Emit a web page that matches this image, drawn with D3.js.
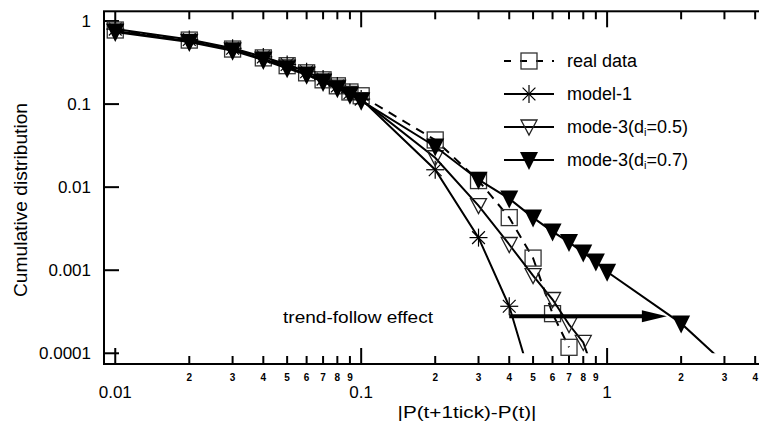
<!DOCTYPE html>
<html>
<head>
<meta charset="utf-8">
<script src="https://cdn.jsdelivr.net/npm/d3@7"></script>
<style>
  body { margin: 0; background: #fff; }
  svg { display: block; font-family: "Liberation Sans", Arial, sans-serif; }
</style>
</head>
<body>
<svg id="chart" width="759" height="430"></svg>
<script>
// values
const realX = [0.01, 0.02, 0.03, 0.04, 0.05, 0.06, 0.07, 0.08, 0.09, 0.1, 0.2, 0.3, 0.4, 0.5, 0.6, 0.7];
const realY = [0.78, 0.59, 0.46, 0.36, 0.29, 0.238, 0.196, 0.166, 0.14, 0.126, 0.037, 0.012, 0.0043, 0.0014, 0.0003, 0.000118];

const model1X = [0.01, 0.02, 0.03, 0.04, 0.05, 0.06, 0.07, 0.08, 0.09, 0.1, 0.2, 0.3, 0.4, 0.5];
const model1Y = [0.8, 0.6, 0.47, 0.37, 0.3, 0.245, 0.2, 0.165, 0.137, 0.115, 0.0162, 0.00247, 0.000368, 0.00004];

const mode05X = [0.01, 0.02, 0.03, 0.04, 0.05, 0.06, 0.07, 0.08, 0.09, 0.1, 0.2, 0.3, 0.4, 0.5, 0.6, 0.7, 0.8, 0.9];
const mode05Y = [0.76, 0.57, 0.45, 0.35, 0.28, 0.23, 0.19, 0.16, 0.135, 0.113, 0.0226, 0.006, 0.00204, 0.00086, 0.000444, 0.000222, 0.000135, 0.00005];

const mode07X = [0.01, 0.02, 0.03, 0.04, 0.05, 0.06, 0.07, 0.08, 0.09, 0.1, 0.2, 0.3, 0.4, 0.5, 0.6, 0.7, 0.8, 0.9, 1, 2, 3];
const mode07Y = [0.74, 0.56, 0.44, 0.34, 0.27, 0.225, 0.185, 0.155, 0.13, 0.11, 0.0309, 0.0123, 0.00728, 0.0043, 0.00292, 0.00218, 0.00163, 0.00127, 0.00096, 0.000229, 0.000076];

const seriesNames = ["real data", "model-1", "mode-3(d=0.5)", "mode-3(d=0.7)"];

const yTicks = [1, 0.1, 0.01, 0.001, 0.0001];
const yTickLabels = ["1", "0.1", "0.01", "0.001", "0.0001"];
const xMajorTicks = [0.01, 0.1, 1];
const xMajorLabels = ["0.01", "0.1", "1"];
const xMinorTicks = [0.02, 0.03, 0.04, 0.05, 0.06, 0.07, 0.08, 0.09, 0.2, 0.3, 0.4, 0.5, 0.6, 0.7, 0.8, 0.9, 2, 3, 4];
const xMinorLabels = ["2", "3", "4", "5", "6", "7", "8", "9", "2", "3", "4", "5", "6", "7", "8", "9", "2", "3", "4"];

const arrowFrom = [0.4, 0.00028];
const arrowTo = [1.75, 0.00028];
const yFloor = 0.0001;

const svg = d3.select("#chart");
const plot = { left: 104, right: 779, top: 11.3, bottom: 364 };

const x = d3.scaleLog().domain([0.009, 5]).range([plot.left, plot.right]);
const y = d3.scaleLog().domain([7.43e-5, 1.31]).range([plot.bottom, plot.top]);

// clip lines at the 1e-4 level like the original
svg.append("defs").append("clipPath").attr("id", "clip")
  .append("rect")
  .attr("x", plot.left).attr("y", plot.top)
  .attr("width", plot.right - plot.left).attr("height", y(yFloor) - plot.top);

// frame
svg.append("rect")
  .attr("x", plot.left).attr("y", plot.top)
  .attr("width", plot.right - plot.left).attr("height", plot.bottom - plot.top)
  .attr("fill", "none").attr("stroke", "#000").attr("stroke-width", 2);

const ticks = svg.append("g").attr("stroke", "#000").attr("stroke-width", 2);

// y ticks both sides
yTicks.forEach(v => {
  ticks.append("line").attr("x1", plot.left).attr("x2", plot.left + 15).attr("y1", y(v)).attr("y2", y(v));
  ticks.append("line").attr("x1", plot.right).attr("x2", plot.right - 15).attr("y1", y(v)).attr("y2", y(v));
});
// x ticks top and bottom
xMajorTicks.forEach(v => {
  ticks.append("line").attr("x1", x(v)).attr("x2", x(v)).attr("y1", plot.bottom).attr("y2", plot.bottom - 16);
  ticks.append("line").attr("x1", x(v)).attr("x2", x(v)).attr("y1", plot.top).attr("y2", plot.top + 16);
});
xMinorTicks.forEach(v => {
  ticks.append("line").attr("x1", x(v)).attr("x2", x(v)).attr("y1", plot.bottom).attr("y2", plot.bottom - 8);
  ticks.append("line").attr("x1", x(v)).attr("x2", x(v)).attr("y1", plot.top).attr("y2", plot.top + 8);
});

// tick labels
svg.append("g").selectAll("text").data(yTicks).join("text")
  .attr("x", 91).attr("y", d => y(d))
  .attr("text-anchor", "end").attr("dominant-baseline", "central")
  .attr("font-size", 17)
  .text((d, i) => yTickLabels[i]);

svg.append("g").selectAll("text").data(xMajorTicks).join("text")
  .attr("x", d => x(d)).attr("y", 392)
  .attr("text-anchor", "middle").attr("dominant-baseline", "central")
  .attr("font-size", 17)
  .text((d, i) => xMajorLabels[i]);

svg.append("g").selectAll("text").data(xMinorTicks).join("text")
  .attr("x", d => x(d)).attr("y", 377)
  .attr("text-anchor", "middle").attr("dominant-baseline", "central")
  .attr("font-size", 10).attr("font-weight", "bold")
  .text((d, i) => xMinorLabels[i]);

// axis titles
svg.append("text")
  .attr("x", 467).attr("y", 418)
  .attr("text-anchor", "middle").attr("font-size", 17)
  .attr("textLength", 139).attr("lengthAdjust", "spacingAndGlyphs")
  .text("|P(t+1tick)-P(t)|");

svg.append("text")
  .attr("transform", "translate(27,200) rotate(-90)")
  .attr("text-anchor", "middle").attr("font-size", 18)
  .attr("textLength", 194).attr("lengthAdjust", "spacingAndGlyphs")
  .text("Cumulative distribution");

// marker drawers
function square(g) {
  g.append("rect").attr("x", -8).attr("y", -8).attr("width", 16).attr("height", 16)
    .attr("fill", "none").attr("stroke", "#333").attr("stroke-width", 1.3);
}
function star(g) {
  const r = 9, d = 6.4;
  [[-r, 0, r, 0], [0, -r, 0, r], [-d, -d, d, d], [-d, d, d, -d]].forEach(s => {
    g.append("line").attr("x1", s[0]).attr("y1", s[1]).attr("x2", s[2]).attr("y2", s[3])
      .attr("stroke", "#000").attr("stroke-width", 1.2);
  });
}
function openTri(g) {
  g.append("path").attr("d", "M-8,-7L8,-7L0,8Z")
    .attr("fill", "none").attr("stroke", "#222").attr("stroke-width", 1.3);
}
function filledTri(g) {
  g.append("path").attr("d", "M-9,-8L9,-8L0,10Z").attr("fill", "#000");
}

const series = [
  { xs: realX, ys: realY, dash: "9,7", marker: square },
  { xs: model1X, ys: model1Y, dash: null, marker: star },
  { xs: mode05X, ys: mode05Y, dash: null, marker: openTri },
  { xs: mode07X, ys: mode07Y, dash: null, marker: filledTri }
];

const line = d3.line().x(d => x(d[0])).y(d => y(d[1]));

series.forEach(s => {
  const pts = s.xs.map((v, i) => [v, s.ys[i]]);
  svg.append("path")
    .attr("d", line(pts))
    .attr("clip-path", "url(#clip)")
    .attr("fill", "none").attr("stroke", "#000").attr("stroke-width", 2)
    .attr("stroke-dasharray", s.dash);
  pts.filter(p => p[1] >= yFloor).forEach(p => {
    const g = svg.append("g").attr("transform", `translate(${x(p[0])},${y(p[1])})`);
    s.marker(g);
  });
});

// trend-follow arrow
const ax1 = x(arrowFrom[0]), ax2 = x(arrowTo[0]), ay = y(arrowFrom[1]);
svg.append("line")
  .attr("x1", ax1).attr("x2", ax2 - 20).attr("y1", ay).attr("y2", ay)
  .attr("stroke", "#000").attr("stroke-width", 4);
svg.append("path")
  .attr("d", `M${ax2},${ay}L${ax2 - 25},${ay - 6}L${ax2 - 25},${ay + 6}Z`)
  .attr("fill", "#000");

svg.append("text")
  .attr("x", 283).attr("y", 323)
  .attr("font-size", 17)
  .attr("textLength", 150).attr("lengthAdjust", "spacingAndGlyphs")
  .text("trend-follow effect");

// legend
const legend = svg.append("g");
series.forEach((s, i) => {
  const ly = 61 + i * 33;
  legend.append("line")
    .attr("x1", 504).attr("x2", 554).attr("y1", ly).attr("y2", ly)
    .attr("stroke", "#000").attr("stroke-width", 2)
    .attr("stroke-dasharray", i === 0 ? "7,9" : null);
  const g = legend.append("g").attr("transform", `translate(529,${ly})`);
  s.marker(g);
  const t = legend.append("text")
    .attr("x", 567).attr("y", ly).attr("dominant-baseline", "central")
    .attr("font-size", 18);
  const name = seriesNames[i];
  if (name.indexOf("d=") >= 0) {
    const parts = name.split("d=");
    t.append("tspan").text(parts[0] + "d");
    t.append("tspan").attr("font-size", 11).attr("dy", 5).text("i");
    t.append("tspan").attr("dy", -5).text("=" + parts[1]);
  } else {
    t.text(name);
  }
});
</script>
</body>
</html>
